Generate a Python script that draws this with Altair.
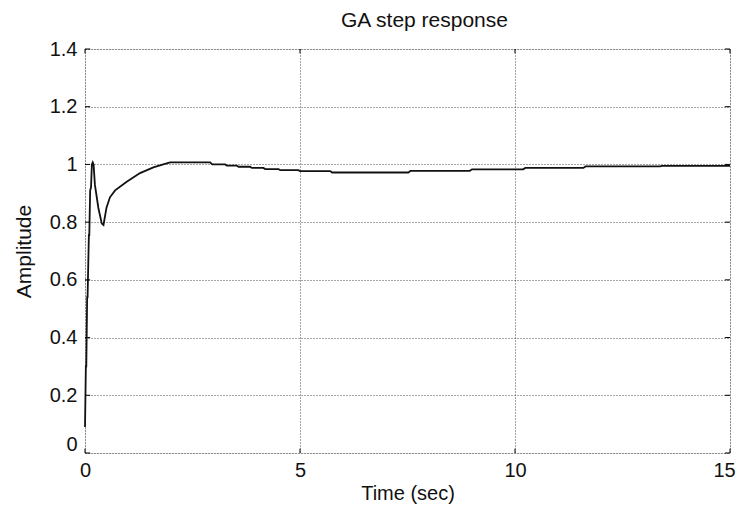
import altair as alt
import pandas as pd

# Step response
time_s = [0, 0.02, 0.03, 0.05, 0.06, 0.09, 0.10, 0.12, 0.14, 0.16, 0.18, 0.20,
          0.23, 0.31, 0.39, 0.43, 0.50, 0.58, 0.70, 0.97, 1.28, 1.59, 1.82, 1.98,
          2.91, 2.96, 3.26, 3.30, 3.53, 3.57, 3.84, 3.88, 4.15, 4.19, 4.50, 4.54,
          4.96, 5.00, 5.70, 5.75, 7.52, 7.57, 8.95, 9.00, 10.19, 10.24, 11.59, 11.64,
          13.37, 13.42, 15.0]
amplitude = [0.09, 0.30, 0.30, 0.54, 0.54, 0.755, 0.755, 0.91, 0.92, 1.0, 1.007, 1.0,
             0.93, 0.85, 0.795, 0.79, 0.85, 0.886, 0.91, 0.94, 0.97, 0.99, 1.0, 1.007,
             1.007, 1.000, 1.000, 0.996, 0.996, 0.992, 0.992, 0.988, 0.988, 0.984, 0.984, 0.980,
             0.980, 0.977, 0.977, 0.972, 0.972, 0.978, 0.978, 0.983, 0.983, 0.988, 0.988, 0.993,
             0.993, 0.995, 0.995]

x_ticks = [0, 5, 10, 15]
y_ticks = [0, 0.2, 0.4, 0.6, 0.8, 1.0, 1.2, 1.4]

FONT = "Liberation Sans"
XT = "Time (sec)"
YT = "Amplitude"

df = pd.DataFrame({"t": time_s, "v": amplitude, "i": list(range(len(time_s)))})

x_scale = alt.Scale(domain=[0, 15], nice=False, zero=False)
y_scale = alt.Scale(domain=[0, 1.4], nice=False)

x_axis = alt.Axis(title=XT, values=x_ticks, grid=True, gridDash=[1, 2], gridColor="#222",
                  gridOpacity=0.8, ticks=False, domain=False, labelFont=FONT, labelFontSize=20,
                  labelColor="#111", labelPadding=7,
                  labelOffset={"condition": {"test": "datum.value == 15", "value": -6}, "value": 0},
                  titleFont=FONT, titleFontSize=20,
                  titleFontWeight="normal", titleColor="#111", titlePadding=3, labelFlush=False)
y_axis = alt.Axis(title=YT, values=y_ticks, format=".1~f", grid=True, gridDash=[1, 2],
                  gridColor="#222", gridOpacity=0.8, ticks=False, domain=False,
                  labelFont=FONT, labelFontSize=20, labelColor="#111", labelPadding=8,
                  labelOffset={"condition": {"test": "datum.value == 0", "value": -9}, "value": 0},
                  titleFont=FONT, titleFontSize=21, titleFontWeight="normal", titleColor="#111",
                  titlePadding=15)

line = alt.Chart(df).mark_line(color="#111", strokeWidth=1.8).encode(
    x=alt.X("t:Q", scale=x_scale, axis=x_axis, title=XT),
    y=alt.Y("v:Q", scale=y_scale, axis=y_axis, title=YT),
    order=alt.Order("i:Q"),
)

# inward tick marks on all four sides
yt = pd.DataFrame({"v": y_ticks * 2,
                   "t": [0] * len(y_ticks) + [14.88] * len(y_ticks),
                   "t2": [0.12] * len(y_ticks) + [15] * len(y_ticks)})
xt = pd.DataFrame({"t": x_ticks * 2,
                   "v": [0] * len(x_ticks) + [1.385] * len(x_ticks),
                   "v2": [0.015] * len(x_ticks) + [1.4] * len(x_ticks)})

ytick = alt.Chart(yt).mark_rule(color="black", strokeWidth=1).encode(
    x=alt.X("t:Q", scale=x_scale, title=XT), x2="t2:Q",
    y=alt.Y("v:Q", scale=y_scale, title=YT),
)
xtick = alt.Chart(xt).mark_rule(color="black", strokeWidth=1).encode(
    x=alt.X("t:Q", scale=x_scale, title=XT),
    y=alt.Y("v:Q", scale=y_scale, title=YT), y2="v2:Q",
)

chart = alt.layer(line, ytick, xtick).properties(
    width=645, height=404,
    title=alt.TitleParams("GA step response", font=FONT, fontSize=21, fontWeight="normal",
                          color="#111", anchor="middle", offset=8, dx=17),
    autosize="none",
    padding={"left": 77, "top": 41, "right": 6, "bottom": 52},
).configure_view(stroke="#111", strokeWidth=1.8).configure(background="white")

chart.save("out.html", embed_options={"renderer": "svg", "actions": False})
